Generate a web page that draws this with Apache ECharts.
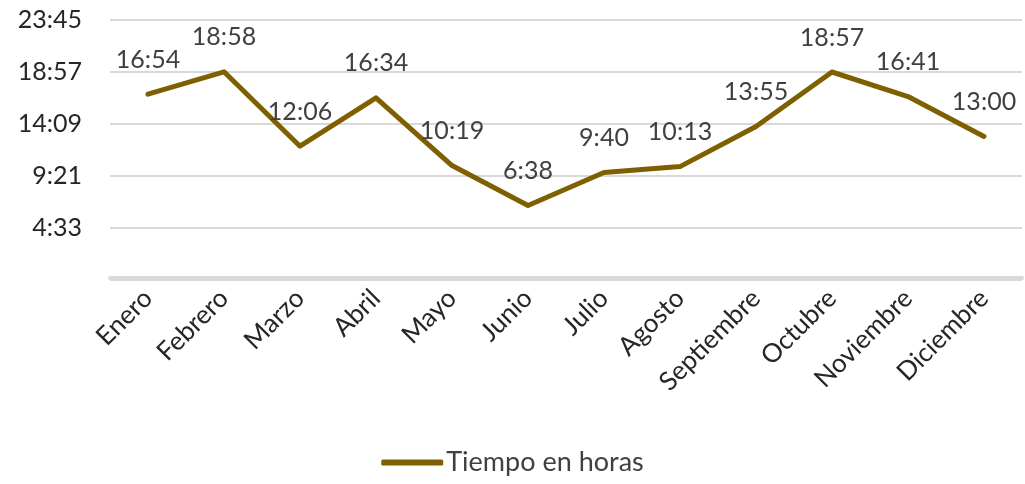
<!DOCTYPE html>
<html>
<head>
<meta charset="utf-8">
<script src="https://cdn.jsdelivr.net/npm/echarts@6/dist/echarts.min.js"></script>
<style>
    html, body { margin: 0; padding: 0; background: #fff; }
    #chart { width: 1025px; height: 484px; }
</style>
</head>
<body>
<div id="chart"></div>
<script>
// meses
const months = ['Enero', 'Febrero', 'Marzo', 'Abril', 'Mayo', 'Junio', 'Julio',
    'Agosto', 'Septiembre', 'Octubre', 'Noviembre', 'Diciembre'];

// tiempo en minutos (16:54 -> 1014 ...)
const minutes = [1014, 1138, 726, 994, 619, 398, 580, 613, 835, 1137, 1001, 780];

// eje y: 4:33, 9:21, 14:09, 18:57, 23:45 (paso de 4:48)
const axisMin = -15;
const axisMax = 1425;
const axisStep = 288;

function toHours(v) {
    const h = Math.floor(v / 60);
    const m = Math.round(v - h * 60);
    return h + ':' + (m < 10 ? '0' + m : m);
}

const font = 'Lato, "Open Sans", sans-serif';
const chart = echarts.init(document.getElementById('chart'));

chart.setOption({
    animation: false,
    textStyle: { fontFamily: font },
    grid: { left: 110, right: 3, top: 20, bottom: 204 },
    legend: {
        bottom: 3,
        left: 'center',
        icon: 'roundRect',
        itemWidth: 62,
        itemHeight: 6,
        textStyle: { fontSize: 27, color: '#404040', fontFamily: font, padding: [0, 0, 0, -2] },
        data: ['Tiempo en horas']
    },
    xAxis: {
        type: 'category',
        data: months,
        boundaryGap: true,
        axisLine: { lineStyle: { color: '#d9d9d9', width: 4 } },
        axisTick: { show: false },
        axisLabel: {
            rotate: 45,
            interval: 0,
            margin: 14,
            fontSize: 26,
            color: '#262626',
            fontFamily: font
        }
    },
    yAxis: {
        type: 'value',
        min: axisMin,
        max: axisMax,
        interval: axisStep,
        axisLine: { show: false },
        axisTick: { show: false },
        splitLine: { lineStyle: { color: '#d9d9d9', width: 2 } },
        axisLabel: {
            fontSize: 25,
            color: '#262626',
            margin: 28,
            fontFamily: font,
            formatter: v => v < 0 ? '' : toHours(v)
        }
    },
    series: [{
        name: 'Tiempo en horas',
        type: 'line',
        data: minutes,
        showSymbol: true,
        symbol: 'circle',
        symbolSize: 0,
        lineStyle: { color: '#7f6000', width: 5, cap: 'round', join: 'round' },
        itemStyle: { color: '#7f6000' },
        label: {
            show: true,
            position: 'top',
            distance: 22,
            fontSize: 25,
            color: '#404040',
            fontFamily: font,
            formatter: p => toHours(p.value)
        }
    }]
});
</script>
</body>
</html>
